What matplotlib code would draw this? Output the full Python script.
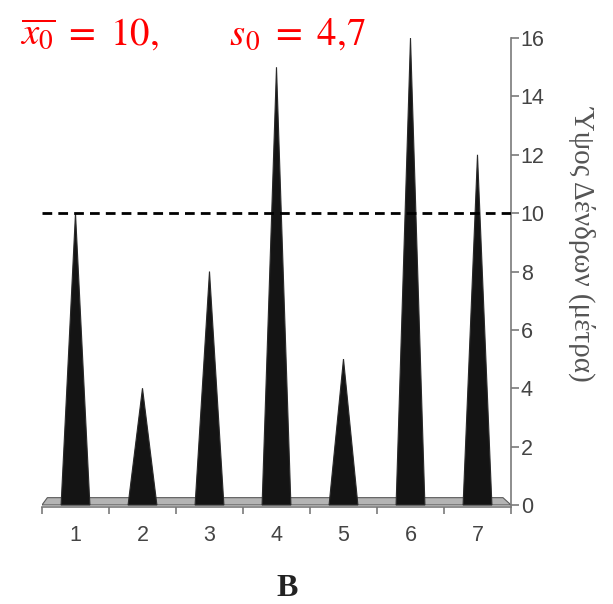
import matplotlib
matplotlib.use("Agg")
import matplotlib.pyplot as plt
from matplotlib.patches import Polygon

# tree heights per plot (metres)
trees = [1, 2, 3, 4, 5, 6, 7]
heights = [10, 4, 8, 15, 5, 16, 12]
mean_height = 10
y_ticks = [0, 2, 4, 6, 8, 10, 12, 14, 16]

plt.rcParams['mathtext.fontset'] = 'stix'

fig = plt.figure(figsize=(6.13, 6.04), dpi=100)
ax = fig.add_axes([0.0685, 0.1606, 0.7651, 0.7764])

# gray floor under the cones
floor = Polygon([(0.5, 0.0), (7.5, 0.0), (7.38, 0.25), (0.58, 0.25)],
                closed=True, facecolor='#b4b4b4', edgecolor='#5a5a5a', lw=0.8, zorder=1)
ax.add_patch(floor)

half = 0.215
for x, h in zip(trees, heights):
    cone = Polygon([(x - half, 0.0), (x + half, 0.0), (x, h)], closed=True,
                   facecolor='#141414', edgecolor='#2a2a2a', lw=0.8, zorder=2)
    ax.add_patch(cone)

ax.axhline(mean_height, color='black', lw=2.0, ls=(0, (3.5, 2.2)), zorder=3)

ax.set_xlim(0.5, 7.5)
ax.set_ylim(-0.07, 16)

for side in ['left', 'top']:
    ax.spines[side].set_visible(False)
for side in ['right', 'bottom']:
    ax.spines[side].set_color('#7a7a7a')
    ax.spines[side].set_linewidth(1.2)

ax.yaxis.tick_right()
ax.set_yticks(y_ticks)
ax.tick_params(axis='y', direction='out', length=6, width=1.2, color='#7a7a7a',
               labelsize=15.5, labelcolor='#444444', pad=1)

ax.set_xticks([i + 0.5 for i in range(8)])
ax.set_xticklabels([])
ax.set_xticks(trees, minor=True)
ax.set_xticklabels([str(t) for t in trees], minor=True)
ax.tick_params(axis='x', which='major', direction='out', length=5, width=1.2, color='#7a7a7a')
ax.tick_params(axis='x', which='minor', length=0, labelsize=15.5, labelcolor='#444444', pad=13)
for lab in ax.get_xticklabels(minor=True) + ax.get_yticklabels():
    lab.set_family('Liberation Sans')

fig.text(0.951, 0.597, 'Ύψος Δένδρων (μέτρα)', rotation=-90, family='Liberation Serif',
         fontsize=21, color='#555555', ha='center', va='center')

fig.text(0.033, 0.926, r'$\overline{x_{0}}\ =\ 10,\qquad\ s_{0}\ =\ 4{,}7$', color='#ff0000',
         fontsize=28, ha='left', va='baseline')
fig.text(0.468, 0.014, 'B', family='Liberation Serif', fontweight='bold',
         fontsize=23, ha='center', va='baseline', color='#222222')

fig.savefig('out.png', dpi=100)
